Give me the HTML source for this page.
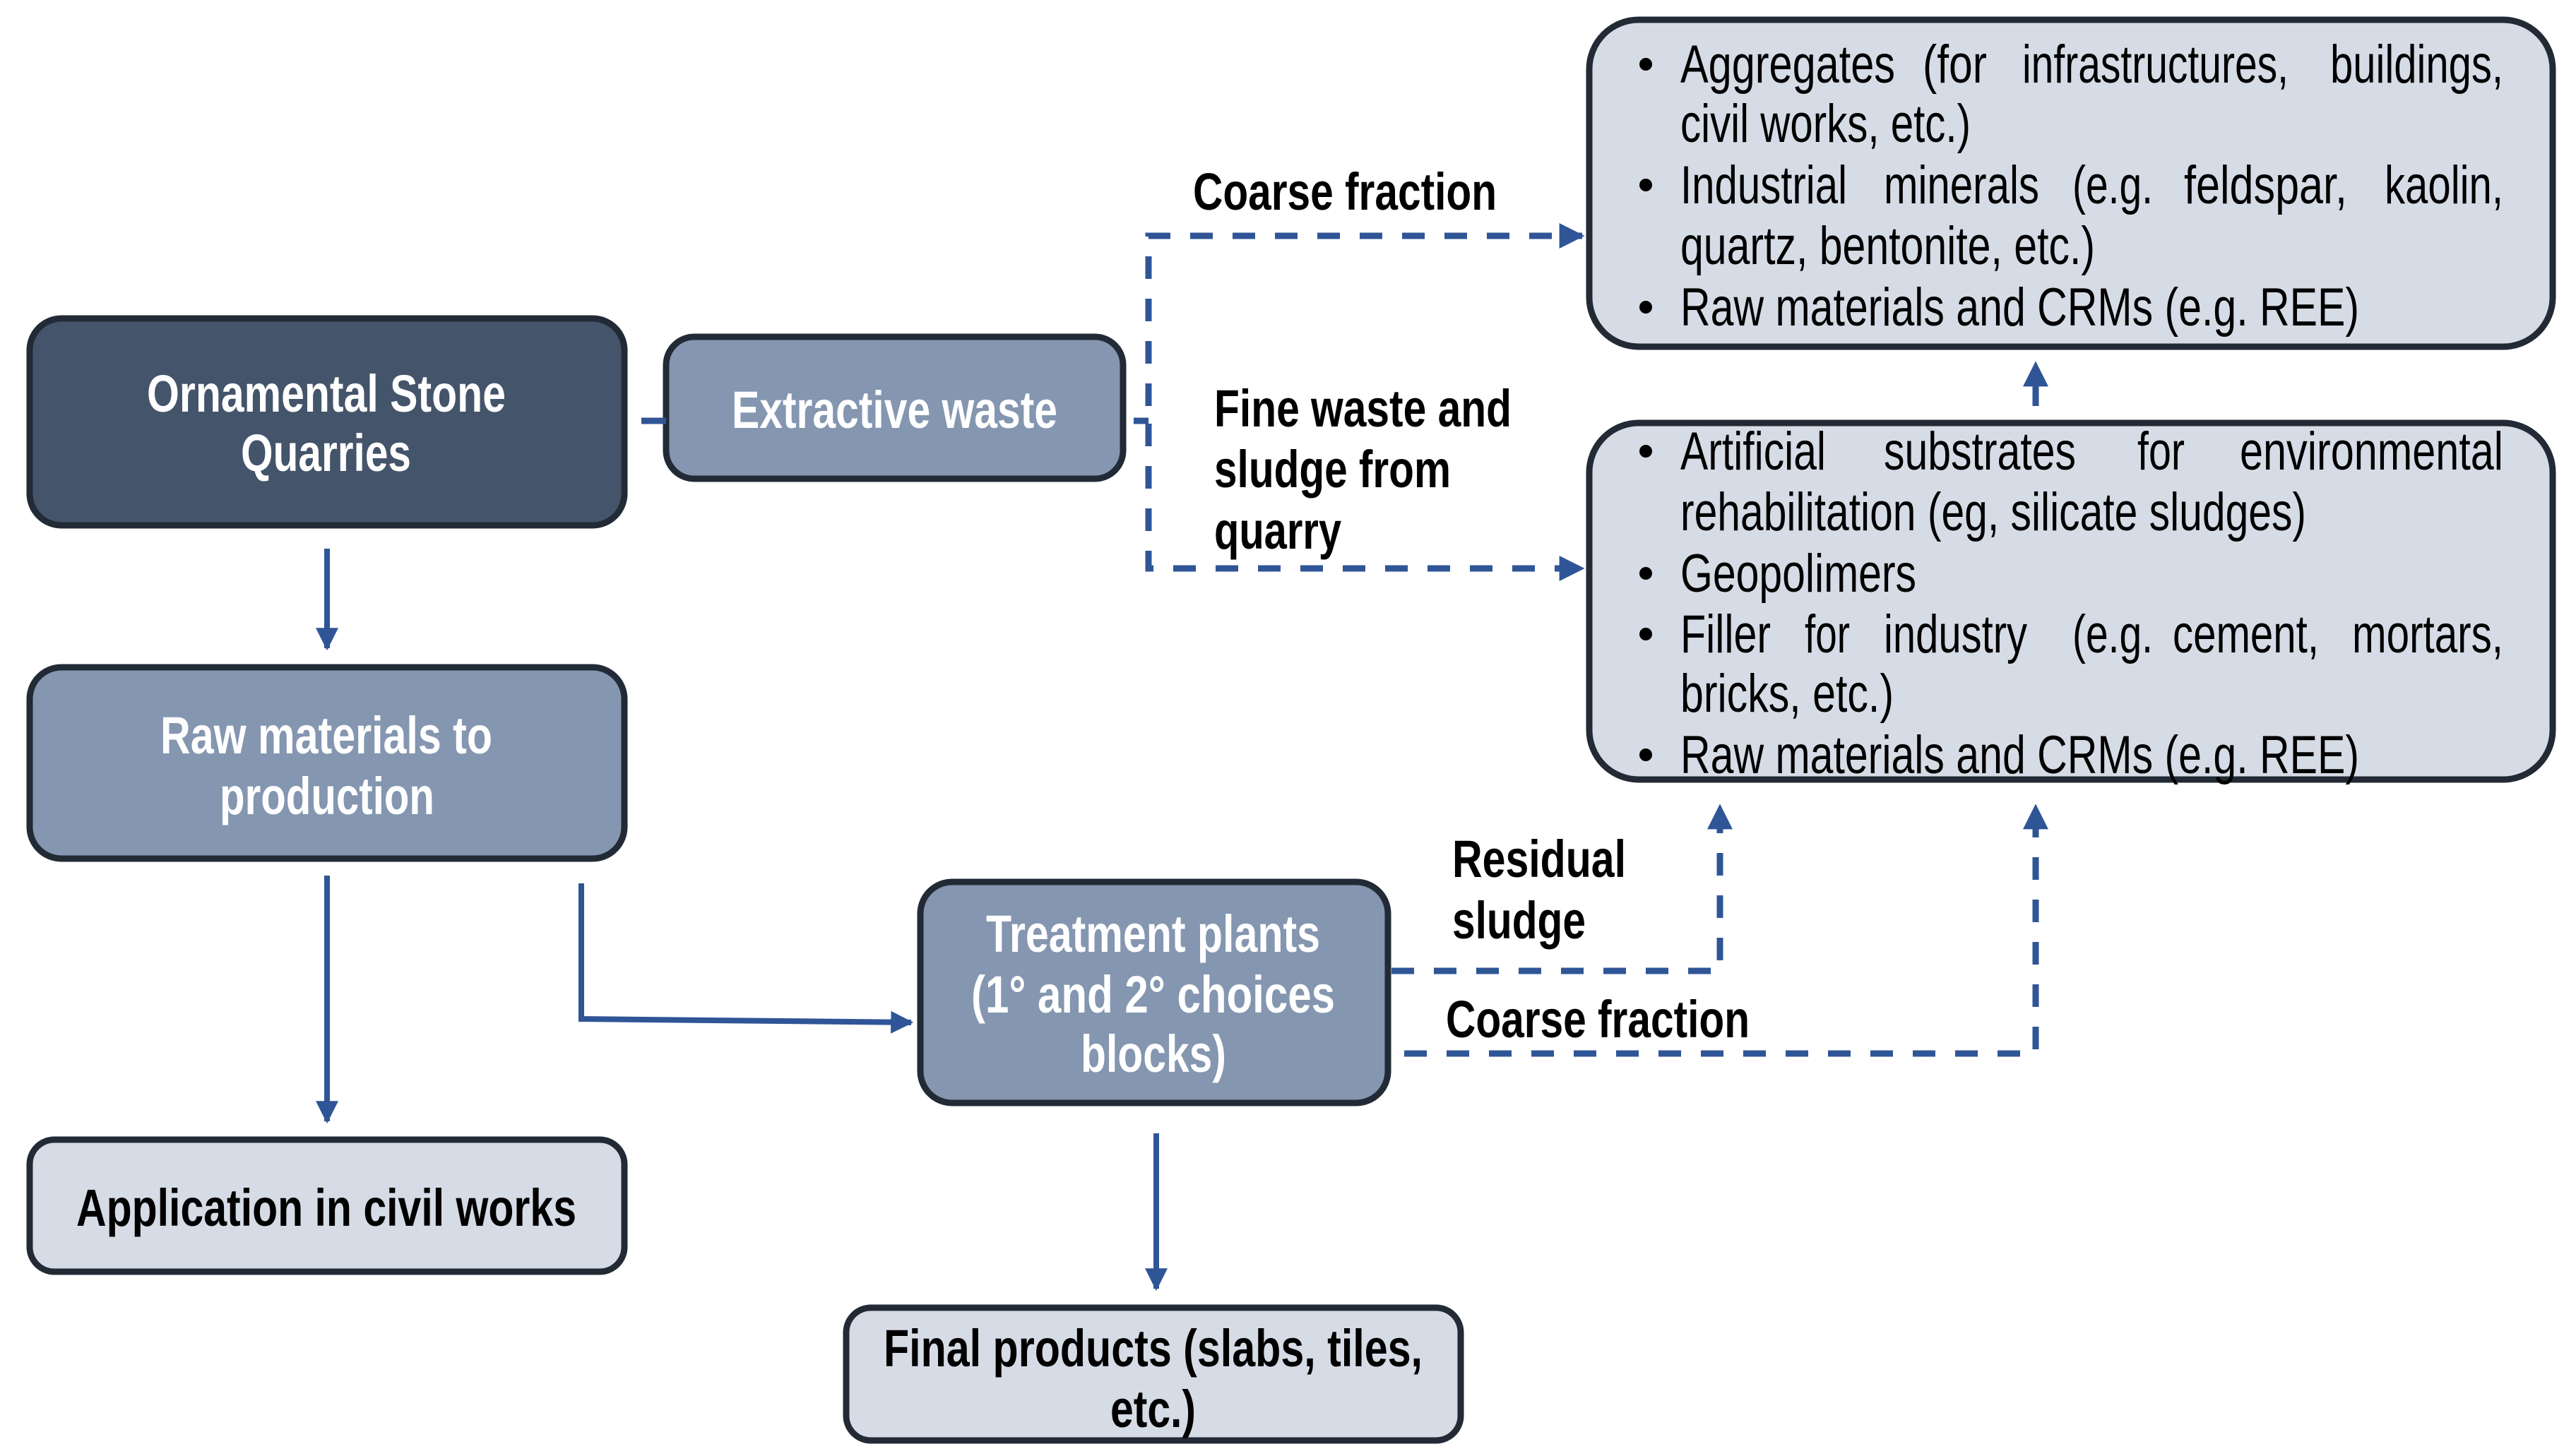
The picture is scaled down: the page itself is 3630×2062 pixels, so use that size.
<!DOCTYPE html>
<html><head><meta charset="utf-8"><style>
html,body{margin:0;padding:0;background:#fff;}
svg{display:block;}
text{font-family:"Liberation Sans Narrow","Liberation Sans",sans-serif;}
.w{fill:#fff;font-weight:bold;font-size:74px;}
.b{fill:#000;font-weight:bold;font-size:74px;}
.n{fill:#000;font-size:76px;}
</style></head><body>
<svg width="3630" height="2062" viewBox="0 0 3630 2062" xmlns="http://www.w3.org/2000/svg">
<defs>
<marker id="ah" viewBox="0 0 10 10" refX="9" refY="5" markerWidth="4" markerHeight="4" orient="auto" markerUnits="strokeWidth">
<path d="M0,0 L10,5 L0,10 z" fill="#2f5597"/></marker>
</defs>
<g stroke="#222a35" stroke-width="9">
<rect x="42" y="451" width="842" height="293" rx="45" fill="#44546a"/>
<rect x="943" y="477" width="647" height="201" rx="40" fill="#8496b0"/>
<rect x="42" y="945" width="842" height="271" rx="45" fill="#8496b0"/>
<rect x="42" y="1614" width="842" height="187" rx="35" fill="#d6dce5"/>
<rect x="1303" y="1249" width="662" height="313" rx="45" fill="#8496b0"/>
<rect x="1198" y="1852" width="870" height="188" rx="35" fill="#d6dce5"/>
<rect x="2250" y="28" width="1364" height="463" rx="70" fill="#d6dce5"/>
<rect x="2250" y="599" width="1364" height="505" rx="70" fill="#d6dce5"/>
</g>
<g stroke="#2f5597" stroke-width="8" fill="none">
<line x1="463" y1="777" x2="463" y2="918" marker-end="url(#ah)"/>
<line x1="463" y1="1240" x2="463" y2="1588" marker-end="url(#ah)"/>
<polyline points="823,1251 823,1443 1290,1448" marker-end="url(#ah)"/>
<line x1="1637" y1="1605" x2="1637" y2="1825" marker-end="url(#ah)"/>
</g>
<g stroke="#2f5597" stroke-width="9" fill="none" stroke-dasharray="32,28">
<line x1="908" y1="596" x2="943" y2="596" stroke-dasharray="none"/>
<line x1="1605" y1="596" x2="1626" y2="596" stroke-dasharray="none"/>
<polyline points="1626,575 1626,334 2240,334" marker-end="url(#ah)"/>
<polyline points="1626,600 1626,805 2240,805" marker-end="url(#ah)"/>
<line x1="2882" y1="575" x2="2882" y2="515" marker-end="url(#ah)"/>
<polyline points="1970,1375 2435,1375 2435,1142" marker-end="url(#ah)"/>
<polyline points="1988,1492 2882,1492 2882,1142" marker-end="url(#ah)"/>
</g>
<text class="w" x="208" y="583" textLength="508" lengthAdjust="spacingAndGlyphs">Ornamental Stone</text>
<text class="w" x="341" y="667" textLength="241" lengthAdjust="spacingAndGlyphs">Quarries</text>
<text class="w" x="1036" y="606" textLength="461" lengthAdjust="spacingAndGlyphs">Extractive waste</text>
<text class="w" x="227" y="1067" textLength="470" lengthAdjust="spacingAndGlyphs">Raw materials to</text>
<text class="w" x="311" y="1153" textLength="304" lengthAdjust="spacingAndGlyphs">production</text>
<text class="w" x="1396" y="1348" textLength="473" lengthAdjust="spacingAndGlyphs">Treatment plants</text>
<text class="w" x="1375" y="1434" textLength="515" lengthAdjust="spacingAndGlyphs">(1° and 2° choices</text>
<text class="w" x="1530" y="1518" textLength="206" lengthAdjust="spacingAndGlyphs">blocks)</text>
<text class="b" x="108" y="1736" textLength="708" lengthAdjust="spacingAndGlyphs">Application in civil works</text>
<text class="b" x="1251" y="1935" textLength="763" lengthAdjust="spacingAndGlyphs">Final products (slabs, tiles,</text>
<text class="b" x="1572" y="2021" textLength="121" lengthAdjust="spacingAndGlyphs">etc.)</text>
<text class="b" x="1689" y="297" textLength="430" lengthAdjust="spacingAndGlyphs">Coarse fraction</text>
<text class="b" x="1719" y="604" textLength="421" lengthAdjust="spacingAndGlyphs">Fine waste and</text>
<text class="b" x="1719" y="690" textLength="335" lengthAdjust="spacingAndGlyphs">sludge from</text>
<text class="b" x="1719" y="777" textLength="180" lengthAdjust="spacingAndGlyphs">quarry</text>
<text class="b" x="2056" y="1242" textLength="246" lengthAdjust="spacingAndGlyphs">Residual</text>
<text class="b" x="2056" y="1329" textLength="189" lengthAdjust="spacingAndGlyphs">sludge</text>
<text class="b" x="2047" y="1469" textLength="430" lengthAdjust="spacingAndGlyphs">Coarse fraction</text>
<g fill="#000">
<circle cx="2330" cy="91" r="9"/><circle cx="2330" cy="262" r="9"/><circle cx="2330" cy="435" r="9"/>
<circle cx="2330" cy="639" r="9"/><circle cx="2330" cy="812" r="9"/><circle cx="2330" cy="898" r="9"/><circle cx="2330" cy="1069" r="9"/>
</g>
<g class="n">
<text class="n" x="2379" y="117" textLength="304" lengthAdjust="spacingAndGlyphs">Aggregates</text>
<text class="n" x="2722" y="117" textLength="91" lengthAdjust="spacingAndGlyphs">(for</text>
<text class="n" x="2863" y="117" textLength="377" lengthAdjust="spacingAndGlyphs">infrastructures,</text>
<text class="n" x="3299" y="117" textLength="245" lengthAdjust="spacingAndGlyphs">buildings,</text>
<text class="n" x="2379" y="201" textLength="411" lengthAdjust="spacingAndGlyphs">civil works, etc.)</text>
<text class="n" x="2379" y="288" textLength="236" lengthAdjust="spacingAndGlyphs">Industrial</text>
<text class="n" x="2667" y="288" textLength="220" lengthAdjust="spacingAndGlyphs">minerals</text>
<text class="n" x="2934" y="288" textLength="114" lengthAdjust="spacingAndGlyphs">(e.g.</text>
<text class="n" x="3092" y="288" textLength="231" lengthAdjust="spacingAndGlyphs">feldspar,</text>
<text class="n" x="3376" y="288" textLength="168" lengthAdjust="spacingAndGlyphs">kaolin,</text>
<text class="n" x="2379" y="374" textLength="587" lengthAdjust="spacingAndGlyphs">quartz, bentonite, etc.)</text>
<text class="n" x="2379" y="461" textLength="961" lengthAdjust="spacingAndGlyphs">Raw materials and CRMs (e.g. REE)</text>
<text class="n" x="2379" y="665" textLength="206" lengthAdjust="spacingAndGlyphs">Artificial</text>
<text class="n" x="2667" y="665" textLength="272" lengthAdjust="spacingAndGlyphs">substrates</text>
<text class="n" x="3026" y="665" textLength="67" lengthAdjust="spacingAndGlyphs">for</text>
<text class="n" x="3171" y="665" textLength="373" lengthAdjust="spacingAndGlyphs">environmental</text>
<text class="n" x="2379" y="751" textLength="886" lengthAdjust="spacingAndGlyphs">rehabilitation (eg, silicate sludges)</text>
<text class="n" x="2379" y="838" textLength="334" lengthAdjust="spacingAndGlyphs">Geopolimers</text>
<text class="n" x="2379" y="924" textLength="128" lengthAdjust="spacingAndGlyphs">Filler</text>
<text class="n" x="2555" y="924" textLength="64" lengthAdjust="spacingAndGlyphs">for</text>
<text class="n" x="2667" y="924" textLength="203" lengthAdjust="spacingAndGlyphs">industry</text>
<text class="n" x="2934" y="924" textLength="114" lengthAdjust="spacingAndGlyphs">(e.g.</text>
<text class="n" x="3076" y="924" textLength="207" lengthAdjust="spacingAndGlyphs">cement,</text>
<text class="n" x="3330" y="924" textLength="214" lengthAdjust="spacingAndGlyphs">mortars,</text>
<text class="n" x="2379" y="1008" textLength="302" lengthAdjust="spacingAndGlyphs">bricks, etc.)</text>
<text class="n" x="2379" y="1095" textLength="961" lengthAdjust="spacingAndGlyphs">Raw materials and CRMs (e.g. REE)</text>
</g>
</svg>
</body></html>
